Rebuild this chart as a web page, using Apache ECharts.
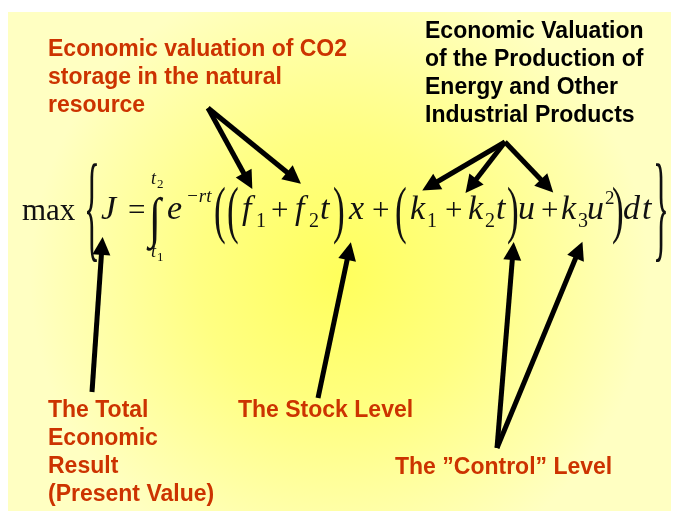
<!DOCTYPE html>
<html>
<head>
<meta charset="utf-8">
<script src="https://cdn.jsdelivr.net/npm/echarts@6/dist/echarts.min.js"></script>
<style>
  html, body { margin: 0; padding: 0; background: #fff; }
  #chart { width: 674px; height: 511px; }
</style>
</head>
<body>
<div id="chart"></div>
<script>
// label texts
const co2Label = ['Economic valuation of CO2', 'storage in the natural', 'resource']
const productionLabel = ['Economic Valuation', 'of the Production of', 'Energy and Other', 'Industrial Products']
const totalLabel = ['The Total', 'Economic', 'Result', '(Present Value)']
const stockLabel = ['The Stock Level']
const controlLabel = ['The \u201DControl\u201D Level']

// arrows, in slide pixels (tail -> head)
const arrowTails = [[208, 108], [208, 108], [505, 142], [505, 142], [505, 142], [92, 392], [318, 398], [497, 448], [497, 448]]
const arrowHeads = [[248, 181], [294, 178], [430, 186], [471, 186], [547, 186], [102, 246], [349, 251], [513, 251], [579, 250]]

const chart = echarts.init(document.getElementById('chart'))

const RED = '#CC3300'
const SANS = 'bold 23px "Liberation Sans", Arial, sans-serif'
const SERIF = '"Liberation Serif", "Times New Roman", serif'

function labelBlock(lines, x, y0, step, color) {
	return lines.map(function (t, i) {
		return {
			type: 'text',
			x: x,
			y: y0 + i * step,
			z: 10,
			style: { text: t, font: SANS, fill: color, align: 'left', verticalAlign: 'middle' },
		}
	})
}

// one math glyph, positioned by its baseline
function m(text, x, base, size, italic, sx) {
	return {
		type: 'text',
		x: x,
		y: base - 0.34 * size,
		scaleX: sx || 1,
		z: 10,
		style: {
			text: text,
			font: (italic ? 'italic ' : '') + size + 'px ' + SERIF,
			fill: '#111',
			align: 'left',
			verticalAlign: 'middle',
		},
	}
}

const B = 222 // equation baseline
const S = 31
const I = 34 // italic letters run a bit larger
const SUB = B + 7
const P = 236 // big parenthesis baseline
const equation = [
	m('max', 22, B, S),
	m('{', 84, 255, 118, false, 0.28),
	m('J', 101, B, I, true),
	m('=', 128, B, S),
	m('\u222B', 149, 240, 55, false, 0.8),
	m('t', 151, 185, 18, true), m('2', 157, 189, 13),
	m('t', 151, 258, 18, true), m('1', 157, 262, 13),
	m('e', 167, B, I, true),
	m('\u2212rt', 186, 203, 19, true),
	m('(', 214, P, 64, false, 0.55),
	m('(', 227, P, 64, false, 0.55),
	m('f', 242, B, I, true), m('1', 256, SUB, 20),
	m('+', 271, B, S),
	m('f', 295, B, I, true), m('2', 309, SUB, 20), m('t', 320, B, I, true),
	m(')', 333, P, 64, false, 0.55),
	m('x', 349, B, I, true),
	m('+', 372, B, S),
	m('(', 395, P, 64, false, 0.55),
	m('k', 410, B, I, true), m('1', 427, SUB, 20),
	m('+', 445, B, S),
	m('k', 468, B, I, true), m('2', 485, SUB, 20), m('t', 496, B, I, true),
	m(')', 507, P, 64, false, 0.55),
	m('u', 518, B, I, true),
	m('+', 541, B, S),
	m('k', 561, B, I, true), m('3', 578, SUB, 20), m('u', 587, B, I, true), m('2', 605, 205, 19),
	m(')', 612, P, 64, false, 0.55),
	m('d', 623, B, I, true), m('t', 642, B, I, true),
	m('}', 653, 255, 118, false, 0.28),
]

const option = {
	backgroundColor: '#ffffff',
	animation: false,
	grid: { left: 0, right: 0, top: 0, bottom: 0 },
	xAxis: { type: 'value', min: 0, max: 674, show: false },
	yAxis: { type: 'value', min: 0, max: 511, inverse: true, show: false },
	graphic: [
		{
			type: 'rect',
			z: -5,
			shape: { x: 8, y: 12, width: 663, height: 499 },
			style: {
				fill: {
					type: 'radial',
					x: 0.5,
					y: 0.53,
					r: 0.62,
					colorStops: [
						{ offset: 0, color: '#FFFF5C' },
						{ offset: 0.45, color: '#FFFF82' },
						{ offset: 1, color: '#FFFFC2' },
					],
				},
			},
		},
	]
		.concat(labelBlock(co2Label, 48, 50, 28, RED))
		.concat(labelBlock(productionLabel, 425, 32, 28, '#000'))
		.concat(labelBlock(totalLabel, 48, 411, 28, RED))
		.concat(labelBlock(stockLabel, 238, 411, 28, RED))
		.concat(labelBlock(controlLabel, 395, 468, 28, RED))
		.concat(equation),
	series: [
		{
			type: 'lines',
			coordinateSystem: 'cartesian2d',
			z: 5,
			symbol: ['none', 'triangle'],
			symbolSize: [16, 18],
			lineStyle: { color: '#000', width: 5, opacity: 1 },
			data: arrowTails.map(function (p, i) {
				return { coords: [p, arrowHeads[i]] }
			}),
		},
	],
}

chart.setOption(option)
</script>
</body>
</html>
